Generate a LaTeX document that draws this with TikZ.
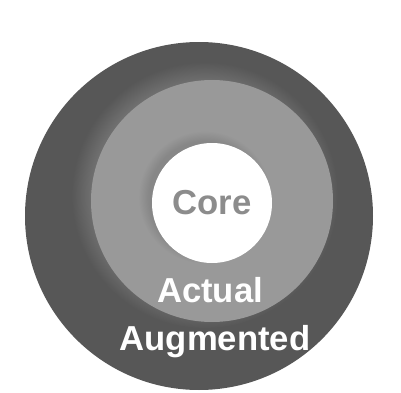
\documentclass[tikz,border=0pt]{standalone}
\usepackage{fontspec}
\setmainfont{Liberation Sans}
\usetikzlibrary{shadows}

\begin{document}
\begin{tikzpicture}[
  x=0.75pt, y=-0.75pt,
  ring/.style={circle, inner sep=0pt, draw=none},
  label/.style={font=\fontsize{26}{28}\selectfont\bfseries, text=white, inner sep=0pt}
]
  \useasboundingbox (0,0) rectangle (401,393);
  \node[ring, fill=black!66, minimum size=261pt] (augmented) at (199,216) {};
  \node[ring, fill=black!40, minimum size=181.5pt,
        circular drop shadow={shadow xshift=-5pt, shadow yshift=4pt, opacity=0.6}] (actual) at (212,201) {};
  \node[ring, fill=white, minimum size=90pt,
        circular drop shadow={shadow xshift=-5pt, shadow yshift=4pt, opacity=0.7}] (core) at (212,203) {};
  \node[label, text=black!45] (coretext) at (core.center) {Core};
  \node[label] (actualtext) at (210,290) {Actual};
  \node[label] (augmentedtext) at (215,342) {Augmented};
\end{tikzpicture}
\end{document}
